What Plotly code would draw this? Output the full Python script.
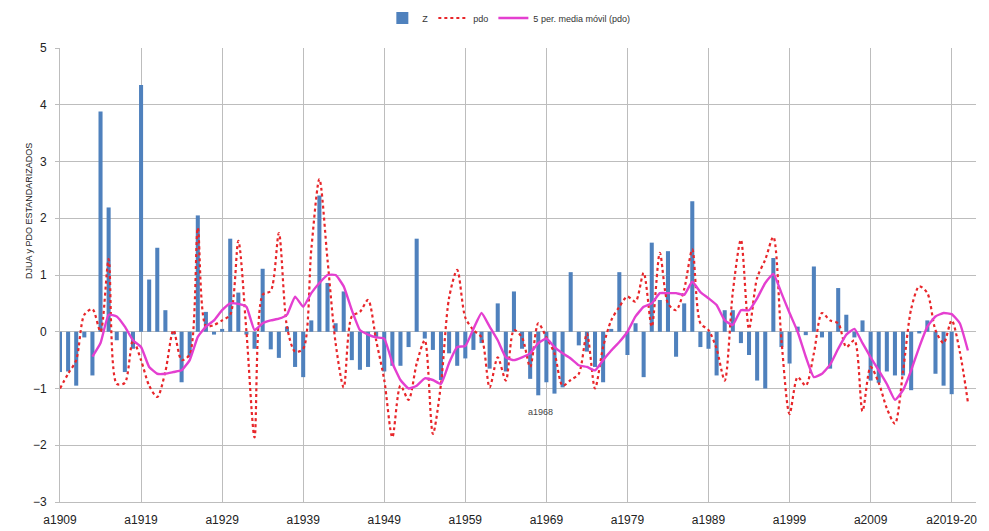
import plotly.graph_objects as go

years = [f"a{y}" for y in range(1909, 2019)] + ["a2019-20", "a2020-21", "a2021-22"]

z_vals = [
    -0.71, -0.70, -0.95, -0.10, -0.77, 3.88, 2.19, -0.15, -0.71, -0.30,
    4.35, 0.92, 1.48, 0.38, -0.05, -0.89, -0.45, 2.05, 0.35, -0.05,
    0.05, 1.64, 0.69, -0.05, -0.30, 1.11, -0.31, -0.46, 0.09, -0.62,
    -0.80, 0.20, 2.40, 0.86, 0.15, 0.71, -0.50, -0.67, -0.62, -0.10,
    -0.70, -0.60, -0.60, -0.27, 1.64, -0.12, -0.32, -0.85, -0.38, -0.60,
    -0.47, -0.32, -0.20, -0.65, 0.50, -0.70, 0.71, -0.30, -0.83, -1.12,
    -0.89, -1.09, -0.98, 1.05, -0.24, -0.35, -0.62, -0.89, 0.05, 1.05,
    -0.41, 0.15, -0.80, 1.57, 0.56, 1.42, -0.44, 0.50, 2.30, -0.27,
    -0.30, -0.77, 0.38, 0.38, -0.20, -0.41, -0.86, -1.00, 1.30, -0.27,
    -0.56, 0.09, -0.06, 1.15, -0.10, -0.65, 0.77, 0.30, -0.10, 0.20,
    -0.86, -0.90, -0.70, -0.77, -0.77, -1.03, -0.03, 0.20, -0.74, -0.95,
    -1.10, None, None,
]

pdo_vals = [
    -1.00, -0.74, -0.50, 0.30, 0.40, 0.00, 1.28, -0.92, -0.90, -0.15,
    -0.50, -0.95, -1.15, -0.70, 0.03, -0.50, -0.40, 1.83, 0.10, 0.12,
    0.20, 0.30, 1.60, 0.00, -1.86, 0.65, 0.72, 1.74, 0.09, -0.35,
    -0.30, 1.45, 2.69, 1.27, -0.20, -0.98, 0.27, 0.35, 0.56, -0.15,
    -0.85, -1.86, -0.95, -1.20, -0.56, -0.15, -1.80, -0.92, 0.60, 1.09,
    0.25, 0.03, -0.10, -0.98, -0.45, -0.86, 0.03, -0.10, -0.62, 0.15,
    -0.10, -0.38, -0.95, -0.85, -0.74, -0.03, -1.00, -0.27, 0.20, 0.44,
    0.62, 0.53, 1.04, 0.09, 1.39, 0.50, 0.38, 0.75, 1.45, 0.15,
    0.03, -0.30, -0.86, 0.70, 1.62, 0.05, 0.95, 1.27, 1.67, -0.15,
    -1.45, -0.80, -0.95, -0.38, 0.33, 0.20, 0.15, -0.27, -0.15, -1.40,
    -0.62, -0.90, -1.35, -1.62, -0.70, 0.40, 0.80, 0.68, 0.03, -0.20,
    0.20, -0.35, -1.24,
]

ma_vals = [
    None, None, None, None, -0.44, -0.20, 0.30, 0.27, 0.09, -0.15,
    -0.27, -0.62, -0.74, -0.74, -0.71, -0.68, -0.50, -0.09, 0.09, 0.20,
    0.38, 0.50, 0.49, 0.44, 0.03, 0.15, 0.20, 0.23, 0.30, 0.62,
    0.44, 0.68, 0.86, 1.00, 1.00, 0.80, 0.38, 0.03, -0.05, -0.10,
    -0.12, -0.55, -0.85, -1.00, -0.95, -0.82, -0.85, -0.92, -0.55, -0.27,
    -0.25, 0.05, 0.33, 0.09, -0.15, -0.45, -0.50, -0.45, -0.38, -0.20,
    -0.12, -0.27, -0.38, -0.47, -0.59, -0.62, -0.68, -0.50, -0.33, -0.18,
    0.00, 0.27, 0.44, 0.50, 0.68, 0.68, 0.68, 0.65, 0.88, 0.70,
    0.59, 0.47, 0.20, 0.12, 0.38, 0.38, 0.59, 0.86, 1.02, 0.68,
    0.33, 0.00, -0.44, -0.80, -0.74, -0.58, -0.30, -0.05, 0.05, -0.20,
    -0.45, -0.68, -0.92, -1.20, -1.03, -0.68, -0.27, 0.09, 0.27, 0.33,
    0.31, 0.15, -0.33,
]

y_ticks = [-3, -2, -1, 0, 1, 2, 3, 4, 5]
label_step = 10

x_idx = list(range(len(years)))
tick_idx = x_idx[::label_step]
tick_txt = years[::label_step]

FONT = "Liberation Sans"

fig = go.Figure()
fig.add_trace(go.Bar(
    x=x_idx, y=z_vals, name="Z", width=0.5,
    marker=dict(color="#4F81BD", line=dict(width=0)),
))
fig.add_trace(go.Scatter(
    x=x_idx, y=pdo_vals, name="pdo", mode="lines",
    line=dict(color="#E8262A", width=2.2, dash="dot", shape="spline", smoothing=0.8),
))
fig.add_trace(go.Scatter(
    x=x_idx, y=ma_vals, name="5 per. media móvil (pdo)", mode="lines",
    line=dict(color="#E43FD0", width=2.4, shape="spline", smoothing=0.4),
))

fig.add_annotation(
    x=59.3, y=-1.42, xref="x", yref="y", text="a1968", showarrow=False,
    font=dict(family=FONT, size=9, color="#444444"),
)
fig.add_annotation(
    x=0, y=0.795, xref="paper", yref="paper", xshift=-38,
    text="DJUA y PDO ESTANDARIZADOS", textangle=-90, showarrow=False,
    font=dict(family=FONT, size=9, color="#222222"),
)

fig.update_layout(
    template="none",
    width=989, height=531,
    margin=dict(l=60, r=13, t=48, b=29, autoexpand=False),
    plot_bgcolor="white", paper_bgcolor="white",
    font=dict(family=FONT, size=12, color="#222222"),
    bargap=0.5,
    showlegend=True,
    legend=dict(
        orientation="h", xref="paper", x=0.49, xanchor="center",
        yref="paper", y=1 + 30 / 454, yanchor="middle",
        font=dict(family=FONT, size=9, color="#333333"),
        bgcolor="rgba(0,0,0,0)",
    ),
    xaxis=dict(
        range=[0, 113], tickmode="array", tickvals=tick_idx, ticktext=tick_txt,
        showgrid=True, gridcolor="#BDBDBD", gridwidth=1, automargin=False,
        showline=True, linecolor="#BDBDBD", ticks="", zeroline=False,
        tickfont=dict(family=FONT, size=12, color="#222222"),
        ticklabelstandoff=7,
    ),
    yaxis=dict(
        range=[-3, 5], tickmode="array", tickvals=y_ticks, automargin=False,
        showgrid=True, gridcolor="#BDBDBD", gridwidth=1,
        showline=True, linecolor="#BDBDBD", ticks="outside", ticklen=4,
        tickcolor="#BDBDBD", zeroline=True, zerolinecolor="#BDBDBD", zerolinewidth=1,
        tickfont=dict(family=FONT, size=12, color="#222222"),
        ticklabelstandoff=6,
    ),
)

fig.write_html(
    "out.html",
    config={"displayModeBar": False},
    post_script="document.body.style.margin='0';document.body.style.overflow='hidden';",
)
